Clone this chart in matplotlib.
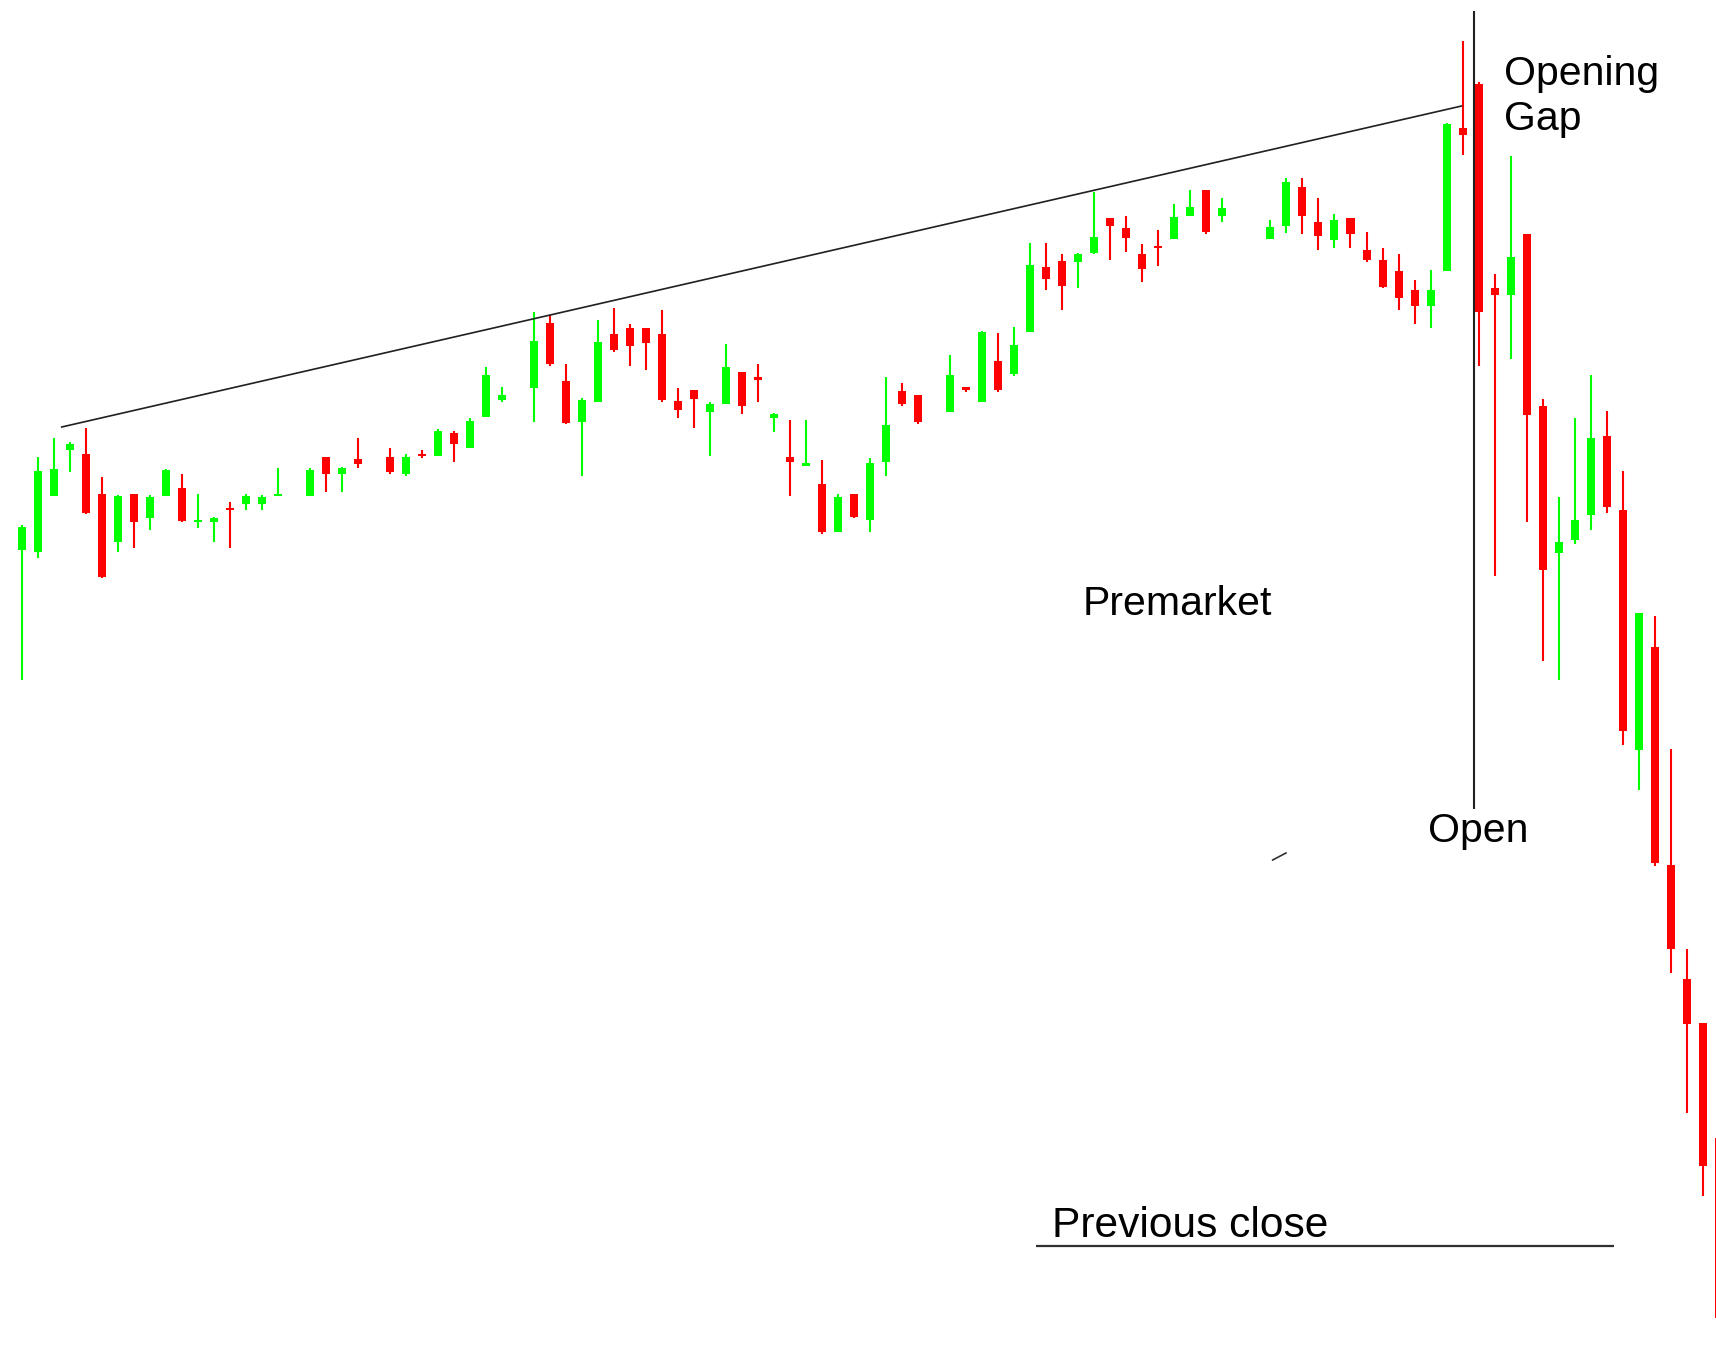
import numpy as np
import matplotlib
matplotlib.use("Agg")
import matplotlib.pyplot as plt

N = None
# OHLC per 1-minute slot (None = no trade in that slot)
opens = [8.11, 8.09, 8.65, 9.11, 9.07, 8.67, 8.19, 8.67, 8.43, 8.65,
         8.73, 8.39, 8.39, 8.53, 8.57, 8.57, 8.65, N, 8.65, 9.04,
         8.87, 9.02, N, 9.04, 8.87, 9.07, 9.05, 9.28, 9.13, 9.44,
         9.61, N, 9.73, 10.38, 9.80, 9.39, 9.59, 10.27, 10.33, 10.33,
         10.27, 9.60, 9.71, 9.49, 9.57, 9.89, 9.84, 9.43, 9.04, 8.95,
         8.77, 8.29, 8.67, 8.41, 8.99, 9.70, 9.66, N, 9.49, 9.74,
         9.59, 10.00, 9.87, 10.29, 10.94, 11.00, 10.99, 11.08, 11.43, 11.33,
         11.07, 11.14, 11.22, 11.45, 11.71, 11.45, N, N, 11.22, 11.35,
         11.74, 11.39, 11.21, 11.43, 11.11, 11.01, 10.90, 10.71, 10.55, 10.90,
         12.33, 12.77, 10.73, 10.66, 11.27, 9.55, 8.08, 8.21, 8.46, 9.25,
         8.51, 6.11, 7.14, 4.96, 3.82, 3.38, 2.23]
highs = [8.36, 9.04, 9.23, 9.19, 9.33, 8.84, 8.66, 8.67, 8.66, 8.92,
         8.87, 8.67, 8.44, 8.59, 8.67, 8.66, 8.93, N, 8.93, 9.04,
         8.94, 9.23, N, 9.13, 9.07, 9.11, 9.32, 9.30, 9.43, 9.94,
         9.74, N, 10.49, 10.46, 9.97, 9.63, 10.41, 10.53, 10.37, 10.33,
         10.51, 9.73, 9.71, 9.59, 10.17, 9.89, 9.97, 9.48, 9.41, 9.41,
         9.01, 8.67, 8.67, 9.03, 9.84, 9.78, 9.66, N, 10.06, 9.74,
         10.30, 10.28, 10.34, 11.18, 11.18, 11.07, 11.08, 11.69, 11.43, 11.45,
         11.17, 11.31, 11.57, 11.71, 11.71, 11.63, N, N, 11.41, 11.83,
         11.83, 11.63, 11.47, 11.43, 11.29, 11.13, 11.07, 10.81, 10.91, 12.38,
         13.20, 12.79, 10.87, 12.05, 11.27, 9.62, 8.64, 9.43, 9.86, 9.50,
         8.90, 7.48, 7.45, 6.12, 4.12, 3.38, 2.23]
lows = [6.81, 8.03, 8.65, 8.89, 8.47, 7.83, 8.09, 8.13, 8.31, 8.65,
        8.39, 8.33, 8.19, 8.13, 8.51, 8.51, 8.65, N, 8.65, 8.69,
        8.69, 8.93, N, 8.87, 8.85, 9.03, 9.05, 8.99, 9.13, 9.44,
        9.59, N, 9.39, 9.95, 9.37, 8.85, 9.59, 10.09, 9.95, 9.91,
        9.59, 9.43, 9.33, 9.05, 9.57, 9.47, 9.59, 9.29, 8.65, 8.95,
        8.27, 8.29, 8.43, 8.29, 8.85, 9.55, 9.37, N, 9.49, 9.69,
        9.59, 9.69, 9.85, 10.29, 10.71, 10.51, 10.73, 11.07, 11.01, 11.09,
        10.79, 10.95, 11.22, 11.45, 11.27, 11.39, N, N, 11.22, 11.28,
        11.27, 11.11, 11.13, 11.13, 10.99, 10.73, 10.51, 10.37, 10.33, 10.90,
        12.06, 9.95, 7.85, 10.02, 8.39, 7.00, 6.81, 8.17, 8.31, 8.48,
        6.16, 5.71, 4.95, 3.88, 2.48, 1.65, 0.43]
closes = [8.34, 8.90, 8.92, 9.17, 8.48, 7.84, 8.65, 8.39, 8.64, 8.91,
          8.40, 8.41, 8.43, 8.51, 8.65, 8.64, 8.65, N, 8.91, 8.87,
          8.93, 8.97, N, 8.89, 9.04, 9.05, 9.30, 9.17, 9.40, 9.86,
          9.66, N, 10.20, 9.97, 9.38, 9.61, 10.19, 10.11, 10.15, 10.18,
          9.61, 9.51, 9.62, 9.57, 9.94, 9.55, 9.81, 9.47, 8.99, 8.98,
          8.29, 8.64, 8.44, 8.98, 9.36, 9.57, 9.39, N, 9.86, 9.71,
          10.29, 9.71, 10.16, 10.96, 10.82, 10.75, 11.07, 11.24, 11.35, 11.23,
          10.92, 11.13, 11.44, 11.54, 11.29, 11.53, N, N, 11.34, 11.79,
          11.45, 11.25, 11.41, 11.27, 11.01, 10.74, 10.63, 10.55, 10.71, 12.37,
          12.26, 10.49, 10.66, 11.04, 9.46, 7.91, 8.19, 8.41, 9.23, 8.54,
          6.30, 7.48, 4.98, 4.12, 3.37, 1.95, 0.43]

# annotation lines
trend_x = [2.5, 89.94]
trend_y = [9.34, 12.55]
open_x = 90.7
open_y = [5.52, 13.50]
prev_close = 1.155
prev_close_x = [63.35, 99.49]
mark_x = [78.14, 78.97]
mark_y = [5.01, 5.08]

GREEN = "#00FF00"
RED = "#FF0000"

fig = plt.figure(figsize=(17.16, 13.61), dpi=100)
ax = fig.add_axes([0, 0, 1, 1])
ax.set_xlim(-1.3554, 105.83)
ax.set_ylim(0, 13.61)
ax.axis("off")

def arr(v):
    return np.array([np.nan if a is None else a for a in v], dtype=float)

o, h, l, c = arr(opens), arr(highs), arr(lows), arr(closes)
x = np.arange(len(o))
ok = ~np.isnan(o)
up = ok & (c >= o)
dn = ok & (c < o)

for mask, col in ((up, GREEN), (dn, RED)):
    ax.vlines(x[mask], l[mask], h[mask], colors=col, linewidth=1.5, zorder=2)
    bottom = np.minimum(o[mask], c[mask])
    height = np.maximum(np.abs(c[mask] - o[mask]), 0.015)
    ax.bar(x[mask], height, bottom=bottom, width=0.5, color=col,
           linewidth=0, zorder=3)

ax.plot(trend_x, trend_y, color="#202020", linewidth=1.2, zorder=4)
ax.vlines(open_x, open_y[0], open_y[1], colors="#202020", linewidth=1.5, zorder=4)
ax.hlines(prev_close, prev_close_x[0], prev_close_x[1], colors="#303030",
          linewidth=1.6, zorder=4)
ax.plot(mark_x, mark_y, color="#303030", linewidth=1.2, zorder=4)

font = dict(family=["Liberation Sans", "DejaVu Sans"], fontsize=29.5,
            color="black", va="baseline", ha="left")
ax.text(66.29, 7.46, "Premarket", **font)
ax.text(64.35, 1.24, "Previous close", **{**font, "fontsize": 30.6})
ax.text(87.84, 5.19, "Open", **font)
ax.text(92.59, 12.76, "Opening", **font)
ax.text(92.59, 12.31, "Gap", **font)

fig.savefig("out.png", dpi=100, facecolor="white")
